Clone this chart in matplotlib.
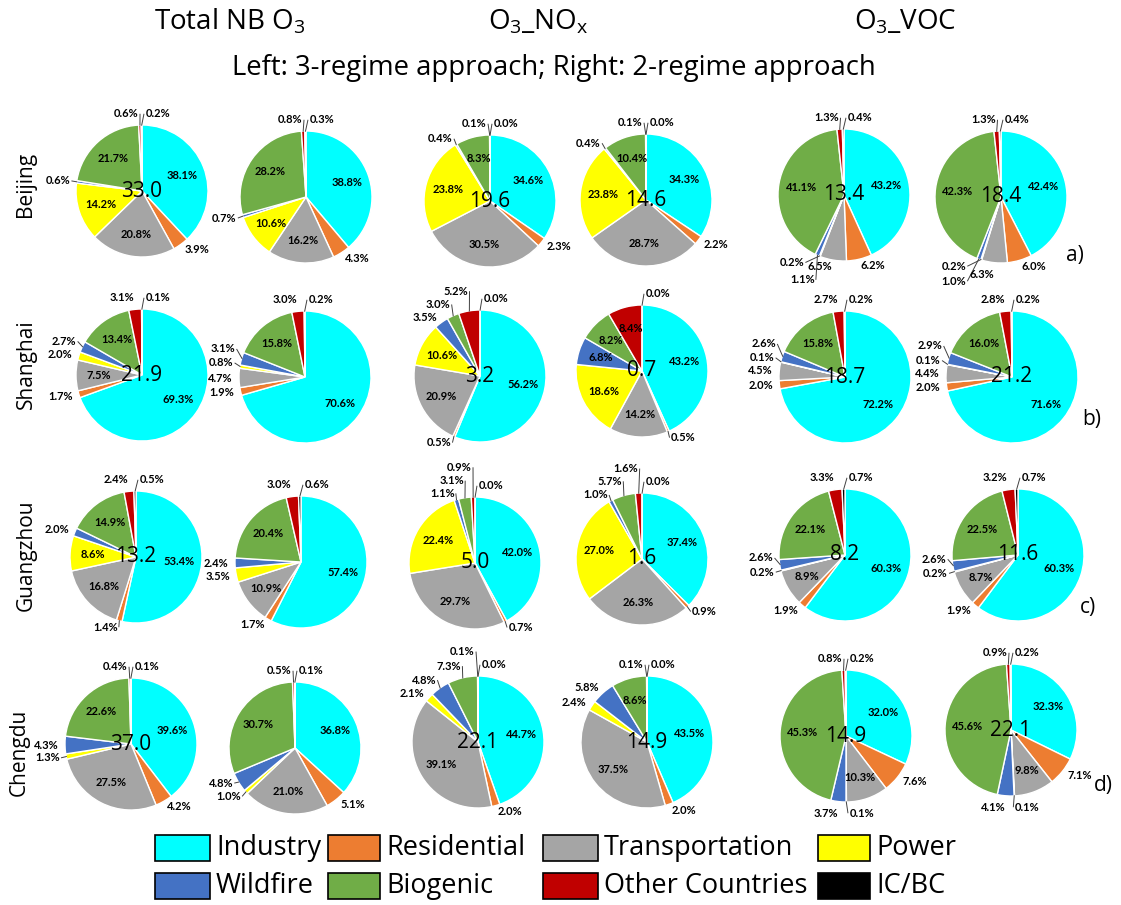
import numpy as np
import matplotlib
matplotlib.use("Agg")
import matplotlib.pyplot as plt
from matplotlib.patches import Rectangle

# ---------------------------------------------------------------------------
# Source categories and colours (clockwise from 12 o'clock)
# ---------------------------------------------------------------------------
sources = ["Industry", "Residential", "Transportation", "Power",
           "Wildfire", "Biogenic", "Other Countries", "IC/BC"]
source_colors = ["#00FFFF", "#ED7D31", "#A5A5A5", "#FFFF00",
                 "#4472C4", "#70AD47", "#C00000", "#000000"]

cities = ["Beijing", "Shanghai", "Guangzhou", "Chengdu"]
panel_tags = ["a)", "b)", "c)", "d)"]
column_titles = ["Total NB O$_3$", "O$_3$_NO$_x$", "O$_3$_VOC"]
subtitle = "Left: 3-regime approach; Right: 2-regime approach"

# Source contributions (%) per pie, order: total(3-regime), total(2-regime),
# NOx(3-regime), NOx(2-regime), VOC(3-regime), VOC(2-regime)
beijing_shares = [
    [38.1, 3.9, 20.8, 14.2, 0.6, 21.7, 0.6, 0.2],
    [38.8, 4.3, 16.2, 10.6, 0.7, 28.2, 0.8, 0.3],
    [34.6, 2.3, 30.5, 23.8, 0.4, 8.3, 0.1, 0.0],
    [34.3, 2.2, 28.7, 23.8, 0.4, 10.4, 0.1, 0.0],
    [43.2, 6.2, 6.5, 0.2, 1.1, 41.1, 1.3, 0.4],
    [42.4, 6.0, 6.3, 0.2, 1.0, 42.3, 1.3, 0.4],
]
shanghai_shares = [
    [69.3, 1.7, 7.5, 2.0, 2.7, 13.4, 3.1, 0.1],
    [70.6, 1.9, 4.7, 0.8, 3.1, 15.8, 3.0, 0.2],
    [56.2, 0.5, 20.9, 10.6, 3.5, 3.0, 5.2, 0.0],
    [43.2, 0.5, 14.2, 18.6, 6.8, 8.2, 8.4, 0.0],
    [72.2, 2.0, 4.5, 0.1, 2.6, 15.8, 2.7, 0.2],
    [71.6, 2.0, 4.4, 0.1, 2.9, 16.0, 2.8, 0.2],
]
guangzhou_shares = [
    [53.4, 1.4, 16.8, 8.6, 2.0, 14.9, 2.4, 0.5],
    [57.4, 1.7, 10.9, 3.5, 2.4, 20.4, 3.0, 0.6],
    [42.0, 0.7, 29.7, 22.4, 1.1, 3.1, 0.9, 0.0],
    [37.4, 0.9, 26.3, 27.0, 1.0, 5.7, 1.6, 0.0],
    [60.3, 1.9, 8.9, 0.2, 2.6, 22.1, 3.3, 0.7],
    [60.3, 1.9, 8.7, 0.2, 2.6, 22.5, 3.2, 0.7],
]
chengdu_shares = [
    [39.6, 4.2, 27.5, 1.3, 4.3, 22.6, 0.4, 0.1],
    [36.8, 5.1, 21.0, 1.0, 4.8, 30.7, 0.5, 0.1],
    [44.7, 2.0, 39.1, 2.1, 4.8, 7.3, 0.1, 0.0],
    [43.5, 2.0, 37.5, 2.4, 5.8, 8.6, 0.1, 0.0],
    [32.0, 7.6, 10.3, 0.1, 3.7, 45.3, 0.8, 0.2],
    [32.3, 7.1, 9.8, 0.1, 4.1, 45.6, 0.9, 0.2],
]

# O3 totals written at the centre of each pie (None = no number shown)
beijing_totals = [33.0, None, 19.6, 14.6, 13.4, 18.4]
shanghai_totals = [21.9, None, 3.2, 0.7, 18.7, 21.2]
guangzhou_totals = [13.2, None, 5.0, 1.6, 8.2, 11.6]
chengdu_totals = [37.0, None, 22.1, 14.9, 14.9, 22.1]

city_shares = [beijing_shares, shanghai_shares, guangzhou_shares, chengdu_shares]
city_totals = [beijing_totals, shanghai_totals, guangzhou_totals, chengdu_totals]

# ---------------------------------------------------------------------------
# Layout (pixels, origin top-left)
# ---------------------------------------------------------------------------
W, H, DPI = 1121, 905, 100
R_PX = 66
pie_x = [[142, 306, 490, 646, 844, 1001],
         [142, 305, 480, 642, 845, 1012],
         [136, 301, 475, 642, 845, 1018],
         [131, 295, 478, 647, 846, 1011]]
pie_y = [[191, 197, 201, 200, 195, 197],
         [375, 377, 376, 371, 377, 377],
         [557, 562, 563, 559, 555, 555],
         [744, 748, 742, 742, 736, 730]]
city_label_pos = [(26, 184), (26, 364), (26, 555), (19, 752)]
tag_pos = [(1075, 255), (1092, 420), (1088, 607), (1103, 785)]

plt.rcParams["font.family"] = ["Open Sans", "DejaVu Sans"]
plt.rcParams["mathtext.default"] = "regular"

fig = plt.figure(figsize=(W / DPI, H / DPI), dpi=DPI)
fig.patch.set_facecolor("white")

LIM = 1.55
LABEL_SIZE = 8
LABEL_FONT = dict(family=["Lato", "DejaVu Sans"], fontweight="bold",
                  fontsize=LABEL_SIZE)
EM = LABEL_SIZE * DPI / 72 / R_PX      # one em in pie-radius units
BOX_H = 0.95 * EM + 0.03


def fx(px):
    return px / W


def fy(py):
    return 1 - py / H


def fits_inside(v, cos_mid):
    # horizontal labels fit more easily into wedges lying on the left/right
    return v >= 8.0 or (v >= 6.6 and abs(cos_mid) > 0.8)


def text_width(t):
    return EM * sum(0.87 if ch == "%" else 0.25 if ch == "." else 0.58 for ch in t) + 0.03


def label_box(x, y, w, side):
    x0, x1 = (x, x + w) if side > 0 else (x - w, x)
    return (x0, x1, y - BOX_H / 2, y + BOX_H / 2)


def boxes_clash(a, b):
    return a[0] < b[1] and b[0] < a[1] and a[2] < b[3] and b[2] < a[3]


def hits_disk(b):
    px = min(max(0.0, b[0]), b[1])
    py = min(max(0.0, b[2]), b[3])
    return np.hypot(px, py) < 1.0


# Candidate shifts for crowded outside labels: (outward dx, vertical dy, cost)
SHIFTS = sorted(((0.04 * i, 0.04 * j, np.hypot(0.04 * i, 0.04 * j) + (0.03 if j < 0 else 0))
                 for i in range(16) for j in range(-8, 10)),
                key=lambda d: d[2])


def draw_pie(cx, cy, shares, total):
    side = 2 * LIM * R_PX
    ax = fig.add_axes([fx(cx - side / 2), fy(cy + side / 2), side / W, side / H])
    wedges, _ = ax.pie(shares, colors=source_colors, startangle=90,
                       counterclock=False, radius=1.0,
                       wedgeprops=dict(edgecolor="white", linewidth=1.0))
    ax.set_xlim(-LIM, LIM)
    ax.set_ylim(-LIM, LIM)
    ax.set_aspect("equal")
    ax.axis("off")

    placed = []
    n = len(shares)
    for i, (w, v) in enumerate(zip(wedges, shares)):
        mid = np.deg2rad((w.theta1 + w.theta2) / 2)
        c, s = np.cos(mid), np.sin(mid)
        txt = f"{v:.1f}%"
        if fits_inside(v, c):
            ax.text(0.66 * c, 0.66 * s, txt, ha="center", va="center", **LABEL_FONT)
            continue
        sd = 1 if c > 1e-6 else -1
        if i == n - 1 and abs(c) < 0.15 and s > 0:
            sd = 1
        tx, ty = 1.1 * c, 1.1 * s
        if abs(c) < 0.15:
            tx = sd * max(abs(tx), 0.05)
            ty = 1.17 * (1 if s >= 0 else -1)
        vs = 1 if s >= 0 else -1
        wdt = text_width(txt)
        nx, ny = tx, ty
        box = label_box(tx, ty, wdt, sd)
        for dx, dy, _ in SHIFTS:
            cx_, cy_ = tx + sd * dx, ty + vs * dy
            cand = label_box(cx_, cy_, wdt, sd)
            if (dx or dy) and hits_disk(cand):
                continue
            if not any(boxes_clash(cand, b) for b in placed):
                nx, ny, box = cx_, cy_, cand
                break
        placed.append(box)
        ha = "left" if sd > 0 else "right"
        ax.text(nx, ny, txt, ha=ha, va="center", **LABEL_FONT)
        if v < 1.5 or np.hypot(nx - tx, ny - ty) > 0.03:
            ax.plot([0.99 * c, nx - sd * 0.02], [0.99 * s, ny],
                    color="#404040", lw=0.7, solid_capstyle="butt", clip_on=False)

    if total is not None:
        ax.text(0, 0, f"{total:.1f}", ha="center", va="center",
                fontsize=15, color="black",
                family=["Open Sans", "DejaVu Sans"])


for r in range(len(cities)):
    for k in range(6):
        draw_pie(pie_x[r][k], pie_y[r][k], city_shares[r][k], city_totals[r][k])
    fig.text(fx(city_label_pos[r][0]), fy(city_label_pos[r][1]), cities[r],
             rotation=90, ha="center", va="center", fontsize=15)
    fig.text(fx(tag_pos[r][0]), fy(tag_pos[r][1]), panel_tags[r],
             ha="center", va="center", fontsize=15)

# Column headers and subtitle
for x, t in zip([230, 538, 905], column_titles):
    fig.text(fx(x), fy(22), t, ha="center", va="center", fontsize=20)
fig.text(fx(554), fy(68), subtitle, ha="center", va="center", fontsize=19.8)

# Legend drawn as two rows of boxed swatches
leg_cols_x = [155, 328, 543, 818]
leg_rows_y = [848, 886]
swatch_w = [55, 52, 55, 52]
for idx, (name, col) in enumerate(zip(sources, source_colors)):
    row = idx // 4
    colm = idx % 4
    x0 = leg_cols_x[colm]
    yc = leg_rows_y[row]
    sw = swatch_w[colm]
    fig.patches.append(Rectangle((fx(x0), fy(yc + 13)), sw / W, 26 / H,
                                 transform=fig.transFigure, facecolor=col,
                                 edgecolor="black", linewidth=1.2))
    fig.text(fx(x0 + sw + 6), fy(yc), name, ha="left", va="center", fontsize=19.5)

fig.savefig("out.png", dpi=DPI, facecolor="white")
